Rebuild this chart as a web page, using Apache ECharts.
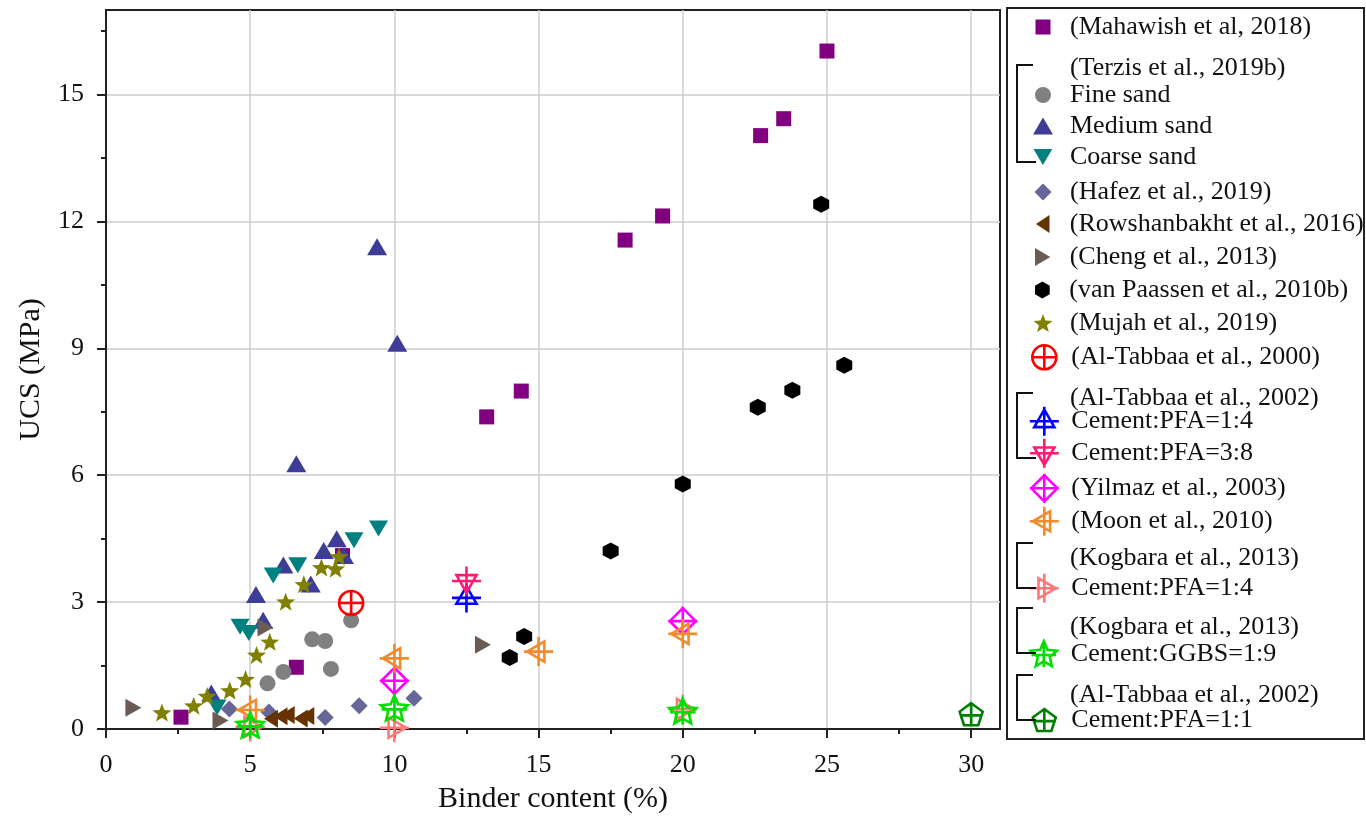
<!DOCTYPE html>
<html><head><meta charset="utf-8">
<script src="https://cdn.jsdelivr.net/npm/echarts@6/dist/echarts.min.js"></script>
<style>html,body{margin:0;padding:0;background:#fff}#c{width:1366px;height:819px}</style>
</head><body><div id="c"></div><script>
// ---------------- DATA ----------------
const xTicks = [0, 5, 10, 15, 20, 25, 30];
const yTicks = [0, 3, 6, 9, 12, 15];
const xMinorTicks = [2.5, 7.5, 12.5, 17.5, 22.5, 27.5];
const yMinorTicks = [1.5, 4.5, 7.5, 10.5, 13.5, 16.5];

const mahawishX = [2.6, 6.6, 8.2, 13.2, 14.4, 18.0, 19.3, 22.7, 23.5, 25.0];
const mahawishY = [0.28, 1.46, 4.1, 7.38, 7.99, 11.56, 12.13, 14.03, 14.43, 16.03];

const fineSandX = [5.6, 6.15, 7.15, 7.6, 7.8, 8.5];
const fineSandY = [1.08, 1.35, 2.12, 2.08, 1.42, 2.57];

const mediumSandX = [3.65, 5.2, 5.45, 6.15, 7.1, 7.55, 8.0, 8.25, 6.6, 10.1, 9.4];
const mediumSandY = [0.85, 3.18, 2.57, 3.88, 3.43, 4.22, 4.5, 4.1, 6.27, 9.12, 11.4];

const coarseSandX = [3.85, 4.65, 4.95, 5.8, 6.65, 8.6, 9.45];
const coarseSandY = [0.51, 2.42, 2.27, 3.63, 3.87, 4.46, 4.74];

const hafezX = [4.28, 5.65, 7.6, 8.78, 10.68];
const hafezY = [0.47, 0.4, 0.27, 0.55, 0.73];

const rowshanX = [5.72, 6.05, 6.3, 6.75, 6.98];
const rowshanY = [0.24, 0.3, 0.33, 0.25, 0.31];

const chengX = [0.95, 3.97, 5.53, 13.07];
const chengY = [0.5, 0.2, 2.4, 1.99];

const paassenX = [14.0, 14.5, 17.5, 20.0, 22.6, 23.8, 24.8, 25.6];
const paassenY = [1.69, 2.19, 4.21, 5.79, 7.61, 8.01, 12.41, 8.6];

const mujahX = [1.94, 3.04, 3.51, 4.29, 4.84, 5.22, 5.68, 6.23, 6.86, 7.47, 7.96, 8.08];
const mujahY = [0.39, 0.55, 0.78, 0.91, 1.18, 1.75, 2.06, 3.01, 3.42, 3.82, 3.79, 4.08];

const alTabbaa2000X = [8.5];
const alTabbaa2000Y = [2.98];

const alTabbaaPFA14X = [12.5];
const alTabbaaPFA14Y = [3.1];

const alTabbaaPFA38X = [12.5];
const alTabbaaPFA38Y = [3.5];

const yilmazX = [10, 20];
const yilmazY = [1.14, 2.55];

const moonX = [5, 10, 15, 20];
const moonY = [0.45, 1.67, 1.83, 2.25];

const kogbaraPFAX = [5, 10, 20];
const kogbaraPFAY = [0.05, 0.03, 0.47];

const kogbaraGGBSX = [5, 10, 20];
const kogbaraGGBSY = [0.08, 0.48, 0.41];

const alTabbaaPFA11X = [30];
const alTabbaaPFA11Y = [0.35];

// ---------------- SYMBOLS ----------------
function starPath(cx, cy, R, r) {
  let p = '';
  for (let i = 0; i < 10; i++) {
    const a = -Math.PI / 2 + i * Math.PI / 5;
    const rad = i % 2 ? r : R;
    p += (i ? 'L' : 'M') + (cx + rad * Math.cos(a)).toFixed(2) + ',' + (cy + rad * Math.sin(a)).toFixed(2) + ' ';
  }
  return p + 'Z';
}
const PLUS = ' M0,10 L20,10 M10,0 L10,20';
const SYM = {
  square: 'rect',
  circle: 'circle',
  triangle: 'triangle',
  diamond: 'diamond',
  invTri: 'path://M0,0 L20,0 L10,17 Z',
  leftTri: 'path://M0,10 L15,0 L15,20 Z',
  rightTri: 'path://M0,0 L17,10 L0,20 Z',
  hexagon: 'path://M10,0 L18.66,5 L18.66,15 L10,20 L1.34,15 L1.34,5 Z',
  star: 'path://' + starPath(10, 10, 10, 4.2),
  circlePlus: 'path://M1,10 A9,9 0 1 1 19,10 A9,9 0 1 1 1,10 Z M1,10 L19,10 M10,1 L10,19',
  triPlus: 'path://M10,2 L16.93,14 L3.07,14 Z' + PLUS,
  invTriPlus: 'path://M10,18 L16.93,6 L3.07,6 Z' + PLUS,
  diamondPlus: 'path://M10,1 L19,10 L10,19 L1,10 Z' + PLUS,
  leftTriPlus: 'path://M2,10 L14,3.07 L14,16.93 Z' + PLUS,
  rightTriPlus: 'path://M18,10 L6,3.07 L6,16.93 Z' + PLUS,
  starPlus: 'path://' + starPath(10, 10, 10, 4.6) + ' M1,10 L19,10 M10,0 L10,19',
  pentaPlus: 'path://M10,1.5 L18.56,7.72 L15.29,17.78 L4.71,17.78 L1.44,7.72 Z M1.44,10.5 L18.56,10.5 M10,1.5 L10,17.78'
};

// ---------------- SERIES SPECS (style + legend layout) ----------------
const FONT = '"Liberation Serif", "Times New Roman", serif';
const specs = [
  {name: 'Mahawish', label: '(Mahawish et al, 2018)', xs: mahawishX, ys: mahawishY, sym: SYM.square, size: [15, 15], color: '#800080', open: false, yc: 27},
  {name: 'Fine sand', label: 'Fine sand', xs: fineSandX, ys: fineSandY, sym: SYM.circle, size: [16, 16], color: '#808080', open: false, yc: 95},
  {name: 'Medium sand', label: 'Medium sand', xs: mediumSandX, ys: mediumSandY, sym: SYM.triangle, size: [20, 17], color: '#3d3d99', open: false, yc: 126},
  {name: 'Coarse sand', label: 'Coarse sand', xs: coarseSandX, ys: coarseSandY, sym: SYM.invTri, size: [19, 16], color: '#008080', open: false, yc: 157},
  {name: 'Hafez', label: '(Hafez et al., 2019)', xs: hafezX, ys: hafezY, sym: SYM.diamond, size: [17, 17], color: '#666699', open: false, yc: 192},
  {name: 'Rowshanbakht', label: '(Rowshanbakht et al., 2016)', xs: rowshanX, ys: rowshanY, sym: SYM.leftTri, size: [14, 18], color: '#663300', open: false, yc: 224},
  {name: 'Cheng', label: '(Cheng et al., 2013)', xs: chengX, ys: chengY, sym: SYM.rightTri, size: [16, 18], color: '#6b5b55', open: false, yc: 257},
  {name: 'van Paassen', label: '(van Paassen et al., 2010b)', xs: paassenX, ys: paassenY, sym: SYM.hexagon, size: [16, 17], color: '#000000', open: false, yc: 290},
  {name: 'Mujah', label: '(Mujah et al., 2019)', xs: mujahX, ys: mujahY, sym: SYM.star, size: [19, 18], color: '#808000', open: false, yc: 323},
  {name: 'Al-Tabbaa 2000', label: '(Al-Tabbaa et al., 2000)', xs: alTabbaa2000X, ys: alTabbaa2000Y, sym: SYM.circlePlus, size: [24, 24], color: '#ff0000', open: true, yc: 357},
  {name: 'Al-Tabbaa PFA 1:4', label: 'Cement:PFA=1:4', xs: alTabbaaPFA14X, ys: alTabbaaPFA14Y, sym: SYM.triPlus, size: [29, 29], color: '#0000ff', open: true, yc: 420},
  {name: 'Al-Tabbaa PFA 3:8', label: 'Cement:PFA=3:8', xs: alTabbaaPFA38X, ys: alTabbaaPFA38Y, sym: SYM.invTriPlus, size: [29, 29], color: '#ff1a75', open: true, yc: 452},
  {name: 'Yilmaz', label: '(Yilmaz et al., 2003)', xs: yilmazX, ys: yilmazY, sym: SYM.diamondPlus, size: [29, 29], color: '#ff00ff', open: true, yc: 487},
  {name: 'Moon', label: '(Moon et al., 2010)', xs: moonX, ys: moonY, sym: SYM.leftTriPlus, size: [29, 29], color: '#f28a2e', open: true, yc: 520},
  {name: 'Kogbara PFA 1:4', label: 'Cement:PFA=1:4', xs: kogbaraPFAX, ys: kogbaraPFAY, sym: SYM.rightTriPlus, size: [29, 29], color: '#ff7777', open: true, yc: 587},
  {name: 'Kogbara GGBS 1:9', label: 'Cement:GGBS=1:9', xs: kogbaraGGBSX, ys: kogbaraGGBSY, sym: SYM.starPlus, size: [27, 26], color: '#00e000', open: true, yc: 653},
  {name: 'Al-Tabbaa PFA 1:1', label: 'Cement:PFA=1:1', xs: alTabbaaPFA11X, ys: alTabbaaPFA11Y, sym: SYM.pentaPlus, size: [23, 22], color: '#008000', open: true, yc: 720}
];

const headers = [
  {text: '(Terzis et al., 2019b)', yc: 68},
  {text: '(Al-Tabbaa et al., 2002)', yc: 398},
  {text: '(Kogbara et al., 2013)', yc: 558},
  {text: '(Kogbara et al., 2013)', yc: 627},
  {text: '(Al-Tabbaa et al., 2002)', yc: 695}
];
const brackets = [[65, 162], [393, 458], [543, 588], [608, 653], [675, 720]];

const ICON_CX = 1043, TEXT_X = 1070, FS = 26;

function itemStyleOf(s) {
  return s.open
    ? {color: 'rgba(0,0,0,0)', borderColor: s.color, borderWidth: 2.6, opacity: 1}
    : {color: s.color, borderWidth: 0, opacity: 1};
}

const series = specs.map(s => ({
  type: 'scatter',
  name: s.name,
  data: s.xs.map((x, i) => [x, s.ys[i]]),
  symbol: s.sym,
  symbolSize: s.size,
  itemStyle: itemStyleOf(s),
  emphasis: {disabled: true},
  clip: false,
  xAxisIndex: 0,
  yAxisIndex: 0
}));

const legends = specs.map(s => {
  const w = s.size[0], h = s.size[1];
  const H = Math.max(h, FS);
  return {
    data: [s.name],
    left: ICON_CX - w / 2,
    top: s.yc - H / 2,
    padding: 0,
    itemWidth: w,
    itemHeight: h,
    icon: s.sym,
    selectedMode: false,
    itemStyle: itemStyleOf(s),
    formatter: () => s.label,
    textStyle: {fontFamily: FONT, fontSize: FS, color: '#111', lineHeight: FS, padding: [0, 0, 0, TEXT_X - (ICON_CX + w / 2 + 5)]}
  };
});

const graphics = [
  {type: 'rect', z: 10, shape: {x: 1007, y: 8, width: 357, height: 731}, style: {fill: null, stroke: '#222', lineWidth: 2}}
];
headers.forEach(h => graphics.push({
  type: 'text', z: 10, x: TEXT_X, y: h.yc,
  style: {text: h.text, font: FS + 'px ' + FONT, fill: '#111', verticalAlign: 'middle', textVerticalAlign: 'middle', align: 'left'}
}));
brackets.forEach(b => graphics.push({
  type: 'polyline', z: 10,
  shape: {points: [[1033, b[0]], [1017, b[0]], [1017, b[1]], [1036, b[1]]]},
  style: {stroke: '#111', lineWidth: 2, fill: null}
}));

const axisLineStyle = {color: '#222', width: 2};
const labelStyle = {fontFamily: FONT, fontSize: 26, color: '#111'};

const option = {
  animation: false,
  backgroundColor: '#fff',
  grid: {left: 106, right: 366, top: 10, bottom: 89, show: true, borderColor: '#222', borderWidth: 2, containLabel: false},
  xAxis: [
    {
      type: 'value', min: 0, max: 31, interval: 5, position: 'bottom',
      axisLine: {show: true, onZero: false, lineStyle: axisLineStyle},
      axisTick: {show: true, inside: false, length: 9, lineStyle: axisLineStyle, customValues: xTicks},
      axisLabel: {customValues: xTicks, margin: 23, ...labelStyle},
      splitLine: {show: true, lineStyle: {color: '#cccccc', width: 1.5}},
      name: 'Binder content (%)', nameLocation: 'middle', nameGap: 55,
      nameTextStyle: {fontFamily: FONT, fontSize: 30, color: '#111'}
    },
    {
      type: 'value', min: 0, max: 31, interval: 5, position: 'bottom',
      axisLine: {show: false, onZero: false},
      axisTick: {show: true, inside: false, length: 5, lineStyle: axisLineStyle, customValues: xMinorTicks},
      axisLabel: {show: false},
      splitLine: {show: false}
    }
  ],
  yAxis: [
    {
      type: 'value', min: 0, max: 17, interval: 3, position: 'left',
      axisLine: {show: true, onZero: false, lineStyle: axisLineStyle},
      axisTick: {show: true, inside: false, length: 9, lineStyle: axisLineStyle, customValues: yTicks},
      axisLabel: {customValues: yTicks, margin: 22, ...labelStyle},
      splitLine: {show: true, lineStyle: {color: '#cccccc', width: 1.5}},
      name: 'UCS (MPa)', nameLocation: 'middle', nameGap: 60,
      nameTextStyle: {fontFamily: FONT, fontSize: 30, color: '#111'}
    },
    {
      type: 'value', min: 0, max: 17, interval: 3, position: 'left',
      axisLine: {show: false, onZero: false},
      axisTick: {show: true, inside: false, length: 5, lineStyle: axisLineStyle, customValues: yMinorTicks},
      axisLabel: {show: false},
      splitLine: {show: false}
    }
  ],
  legend: legends,
  graphic: graphics,
  series: series
};

const chart = echarts.init(document.getElementById('c'), null, {renderer: 'canvas'});
chart.setOption(option);
</script></body></html>
